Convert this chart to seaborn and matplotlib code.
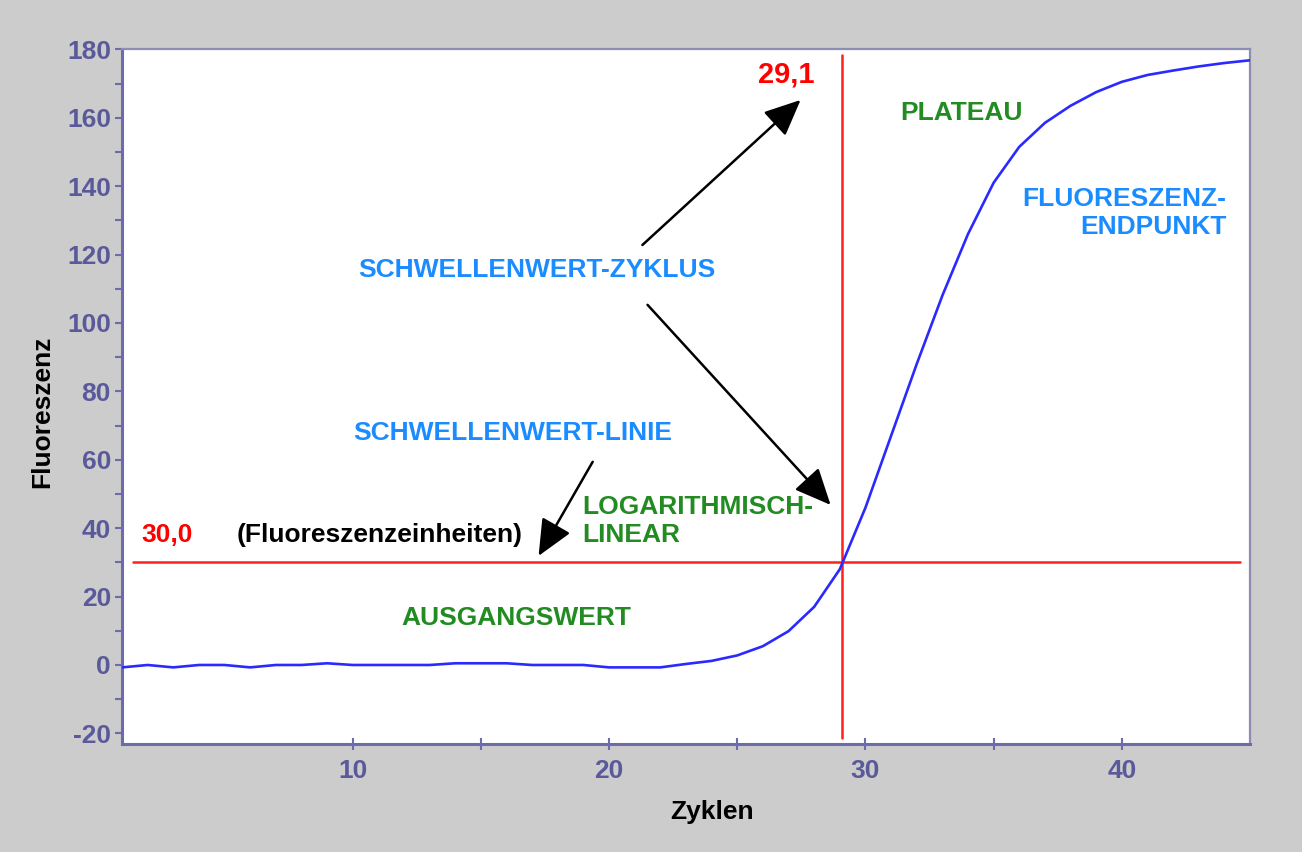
import matplotlib
matplotlib.use("Agg")
import matplotlib.pyplot as plt
from matplotlib import font_manager as fm
from matplotlib.font_manager import FontProperties
from matplotlib.ticker import FixedLocator
import pandas as pd
import seaborn as sns

# qPCR amplification curve: fluorescence per cycle
cycles = list(range(1, 46))
fluorescence = [
    -0.7, 0.0, -0.7, 0.0, 0.0, -0.7, 0.0, 0.0, 0.5, 0.0,
    0.0, 0.0, 0.0, 0.5, 0.5, 0.5, 0.0, 0.0, 0.0, -0.7,
    -0.7, -0.7, 0.3, 1.2, 2.8, 5.5, 9.9, 17.0, 28.0, 46.0,
    67.0, 88.0, 108.0, 126.0, 141.0, 151.5, 158.5, 163.5, 167.5, 170.5,
    172.5, 173.8, 175.0, 176.0, 176.8,
]
threshold_cycle = 29.1
threshold_level = 30.0
x_major = [10, 20, 30, 40]
x_minor = [15, 25, 35]
y_major = list(range(-20, 181, 20))
y_minor = list(range(-10, 180, 20))

df = pd.DataFrame({"Zyklen": cycles, "Fluoreszenz": fluorescence})

sns.set_theme(style="white")
plt.rcParams["font.family"] = ["Liberation Sans", "DejaVu Sans"]
plt.rcParams["font.weight"] = "bold"

AXIS_COLOR = "#6c6cac"
FRAME_COLOR = "#8c8cb4"
TICK_TEXT = "#5a5a9a"
BLUE_TEXT = "#1a8cff"
GREEN_TEXT = "#228b22"
RED = "#ff2020"

fig = plt.figure(figsize=(13.02, 8.52), dpi=100, facecolor="#cccccc")
ax = fig.add_axes([0.0937, 0.12676, 0.86636, 0.81573])
ax.set_facecolor("white")

sns.lineplot(data=df, x="Zyklen", y="Fluoreszenz", ax=ax, color="#2a2aff",
             linewidth=1.9, zorder=4)

# threshold cross-hair
ax.plot([1.42, 44.62], [threshold_level, threshold_level], color=RED, lw=1.8, zorder=3)
ax.plot([threshold_cycle, threshold_cycle], [-21.3, 178.4], color=RED, lw=1.8, zorder=3)

ax.set_xlim(1, 45)
ax.set_ylim(-23.1, 180.1)

ax.xaxis.set_major_locator(FixedLocator(x_major))
ax.xaxis.set_minor_locator(FixedLocator(x_minor))
ax.yaxis.set_major_locator(FixedLocator(y_major))
ax.yaxis.set_minor_locator(FixedLocator(y_minor))

for side in ("left", "bottom"):
    ax.spines[side].set_color(AXIS_COLOR)
    ax.spines[side].set_linewidth(2.2)
for side in ("top", "right"):
    ax.spines[side].set_color(FRAME_COLOR)
    ax.spines[side].set_linewidth(1.6)

ax.tick_params(axis="y", which="both", direction="out", length=5, width=1.5,
               color=AXIS_COLOR, pad=3, left=True)
ax.tick_params(axis="x", which="both", direction="inout", length=8, width=1.5,
               color=AXIS_COLOR, pad=7, bottom=True)

# narrow bold face for the tick numbers when one is installed
installed = {f.name for f in fm.fontManager.ttflist}
narrow = next((n for n in ("Liberation Sans Narrow", "Arial Narrow") if n in installed), None)
if narrow:
    tick_fp = FontProperties(family=narrow, weight="bold", size=20)
else:
    tick_fp = FontProperties(family="Liberation Sans", weight="bold", size=19)
ax.set_xticklabels([str(v) for v in x_major])
ax.set_yticklabels([str(v) for v in y_major])
for lbl in ax.get_xticklabels() + ax.get_yticklabels():
    lbl.set_fontproperties(tick_fp)
    lbl.set_color(TICK_TEXT)

ax.set_xlabel("Zyklen", fontsize=19, fontweight="bold", color="black")
ax.set_ylabel("Fluoreszenz", fontsize=19, fontweight="bold", color="black")
ax.xaxis.label.set_va("center")
ax.yaxis.label.set_va("center")
ax.xaxis.set_label_coords(0.523, -0.098)
ax.yaxis.set_label_coords(-0.071, 0.478)

txt = dict(fontsize=19, fontweight="bold", zorder=6)
ax.text(26.92, 172.5, f"{threshold_cycle:.1f}".replace(".", ","), color="#ff0000",
        ha="center", va="center", fontsize=21, fontweight="bold", zorder=6)
ax.text(2.75, 38.0, f"{threshold_level:.1f}".replace(".", ","), color="#ff0000",
        ha="center", va="center", **txt)
ax.text(11.05, 38.0, "(Fluoreszenzeinheiten)", color="black", ha="center", va="center", **txt)
ax.text(33.74, 161.4, "PLATEAU", color=GREEN_TEXT, ha="center", va="center", **txt)
ax.text(44.07, 132.2, "FLUORESZENZ-\nENDPUNKT", color=BLUE_TEXT, ha="right", va="center",
        multialignment="right", linespacing=1.2, **txt)
ax.text(17.17, 115.5, "SCHWELLENWERT-ZYKLUS", color=BLUE_TEXT, ha="center", va="center", **txt)
ax.text(16.24, 67.8, "SCHWELLENWERT-LINIE", color=BLUE_TEXT, ha="center", va="center", **txt)
ax.text(18.97, 42.1, "LOGARITHMISCH-\nLINEAR", color=GREEN_TEXT, ha="left", va="center",
        multialignment="left", linespacing=1.2, **txt)
ax.text(16.39, 13.7, "AUSGANGSWERT", color=GREEN_TEXT, ha="center", va="center", **txt)

arrow = dict(arrowstyle="-|>,head_length=0.8,head_width=0.36", mutation_scale=28,
             lw=1.8, color="black", shrinkA=0, shrinkB=0)
ax.annotate("", xy=(27.47, 165.2), xytext=(21.3, 122.8), arrowprops=arrow, zorder=5)
ax.annotate("", xy=(28.64, 46.8), xytext=(21.5, 105.3), arrowprops=arrow, zorder=5)
ax.annotate("", xy=(17.25, 31.9), xytext=(19.36, 59.4), arrowprops=arrow, zorder=5)

fig.savefig("out.png", dpi=100, facecolor=fig.get_facecolor())
